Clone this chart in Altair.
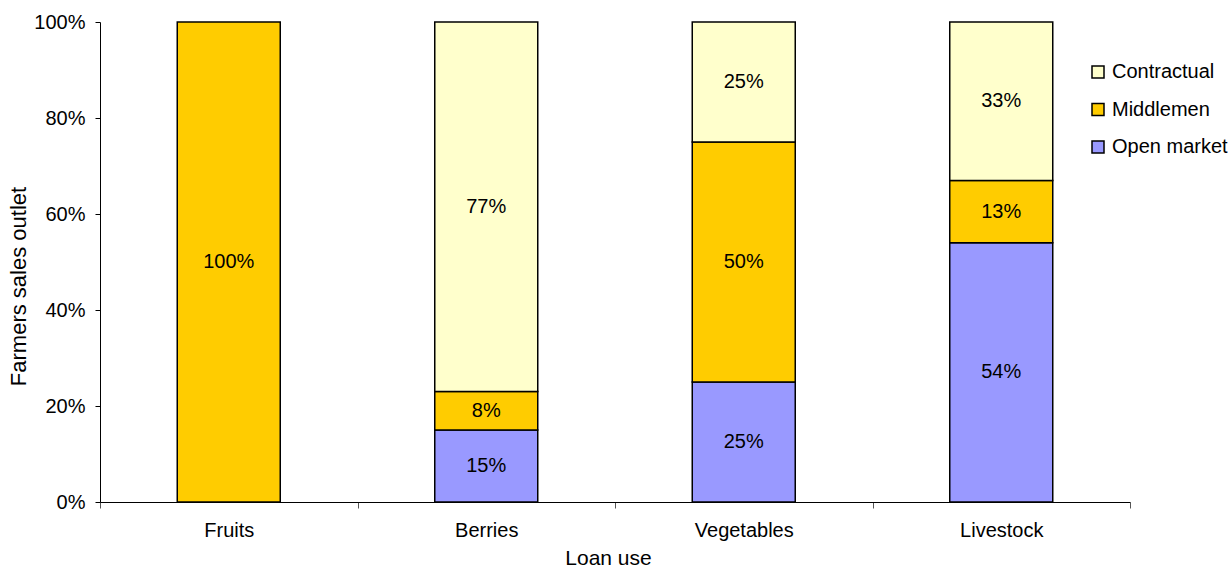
import altair as alt
import pandas as pd

# Share of farmers' sales by outlet, per loan use (percent)
categories = ["Fruits", "Berries", "Vegetables", "Livestock"]
outlets = ["Contractual", "Middlemen", "Open market"]
open_market = [0, 15, 25, 54]
middlemen = [100, 8, 50, 13]
contractual = [0, 77, 25, 33]
outlet_colors = ["#FFFFCC", "#FFCC00", "#9999FF"]
y_ticks = [0, 20, 40, 60, 80, 100]

rows = []
series = [("Open market", open_market, 0), ("Middlemen", middlemen, 1), ("Contractual", contractual, 2)]
for i, cat in enumerate(categories):
    for outlet, vals, rank in series:
        if vals[i] > 0:
            rows.append({"use": cat, "outlet": outlet, "share": vals[i], "rank": rank})
df = pd.DataFrame(rows)

FONT = "Liberation Sans"
FS = 20

base = (
    alt.Chart(df)
    .transform_stack(
        stack="share",
        groupby=["use"],
        as_=["y0", "y1"],
        sort=[alt.SortField("rank", order="ascending")],
    )
    .transform_calculate(mid="(datum.y0 + datum.y1) / 2", label="datum.share + '%'")
)

# Category bands span the full axis so ticks fall between the columns
x_enc = alt.X(
    "use:N",
    sort=categories,
    title="Loan use",
    scale=alt.Scale(paddingInner=0, paddingOuter=0),
    axis=alt.Axis(
        labelAngle=0,
        tickBand="extent",
        grid=False,
        domainColor="black",
        tickColor="#555555",
        tickSize=6,
        labelFont=FONT,
        labelFontSize=FS,
        labelColor="black",
        labelPadding=12,
        titleFont=FONT,
        titleFontSize=21,
        titleFontWeight="normal",
        titleColor="black",
        titlePadding=7,
        titleX=508,
    ),
)

y_enc = alt.Y(
    "y0:Q",
    title="Farmers sales outlet",
    scale=alt.Scale(domain=[0, 100], nice=False),
    axis=alt.Axis(
        values=y_ticks,
        labelExpr="datum.value + '%'",
        grid=False,
        domainColor="black",
        tickColor="black",
        tickSize=5,
        labelFont=FONT,
        labelFontSize=FS,
        labelColor="black",
        labelPadding=10,
        titleFont=FONT,
        titleFontSize=22,
        titleFontWeight="normal",
        titleColor="black",
        titlePadding=3,
        titleY=264,
    ),
)

bars = base.mark_bar(stroke="black", strokeWidth=1.5, width=alt.RelativeBandSize(0.4)).encode(
    x=x_enc,
    y=y_enc,
    y2="y1:Q",
    color=alt.Color(
        "outlet:N",
        scale=alt.Scale(domain=outlets, range=outlet_colors),
        legend=alt.Legend(
            title=None,
            orient="none",
            legendX=988,
            legendY=40,
            padding=0,
            symbolType="square",
            symbolSize=144,
            symbolStrokeColor="black",
            symbolStrokeWidth=1.5,
            symbolOpacity=1,
            labelFont=FONT,
            labelFontSize=20,
            labelColor="black",
            labelOffset=4,
            labelLimit=300,
            rowPadding=17.5,
        ),
    ),
)

labels = base.mark_text(font=FONT, fontSize=FS, color="black").encode(
    x=alt.X("use:N", sort=categories),
    y=alt.Y("mid:Q"),
    text="label:N",
)

chart = (
    alt.layer(bars, labels)
    .properties(
        width=1030,
        height=480,
        padding={"left": 100, "top": 22, "right": 101, "bottom": 66},
        autosize=alt.AutoSizeParams(type="none"),
    )
    .configure_view(stroke=None)
)

chart.save("out.html", embed_options={"renderer": "svg", "actions": False})
